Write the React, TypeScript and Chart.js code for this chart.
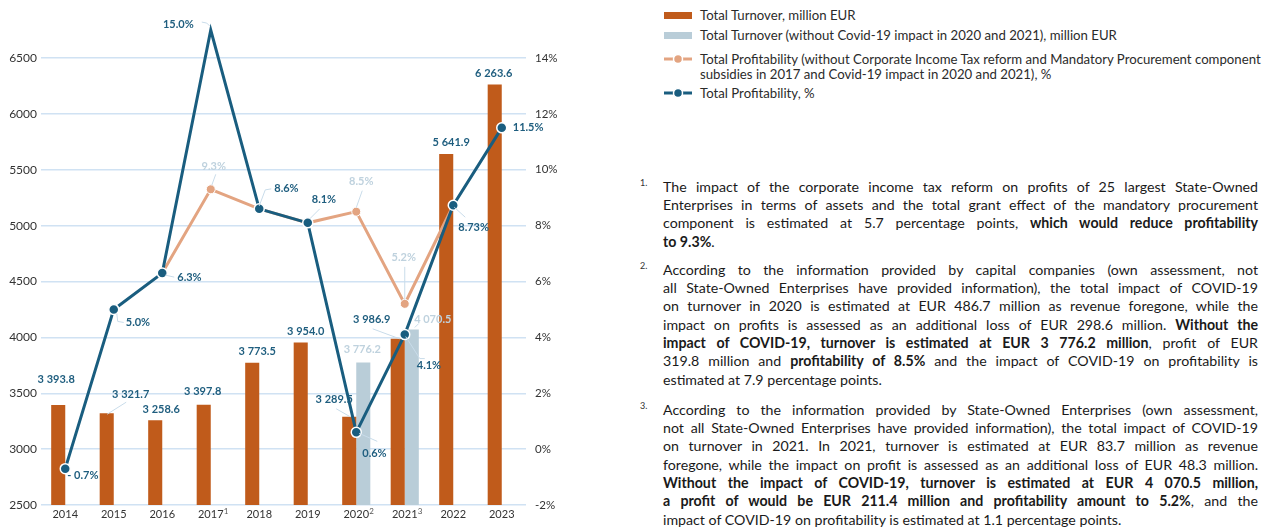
import React, { useEffect, useRef } from "react";
import { Chart, registerables } from "chart.js";

Chart.register(...registerables);

// ---------- DATA ----------
const years = ["2014", "2015", "2016", "2017", "2018", "2019", "2020", "2021", "2022", "2023"];
const yearMarks = ["", "", "", "1", "", "", "2", "3", "", ""];
const turnover = [3393.8, 3321.7, 3258.6, 3397.8, 3773.5, 3954.0, 3289.5, 3986.9, 5641.9, 6263.6];
const turnoverNoCovid = [null, null, null, null, null, null, 3776.2, 4070.5, null, null];
const profitabilityAdj = [null, null, 6.3, 9.3, 8.6, 8.1, 8.5, 5.2, 8.73, null];
const profitability = [-0.7, 5.0, 6.3, 15.0, 8.6, 8.1, 0.6, 4.1, 8.73, 11.5];
const leftTicks = [2500, 3000, 3500, 4000, 4500, 5000, 5500, 6000, 6500];
const rightTicks = [-2, 0, 2, 4, 6, 8, 10, 12, 14];

const legendItems = [
  { kind: "bar", color: "#c05b1b", lines: ["Total Turnover, million EUR"] },
  { kind: "bar", color: "#b9cdd8", lines: ["Total Turnover (without Covid-19 impact in 2020 and 2021), million EUR"] },
  {
    kind: "line",
    color: "#e3a481",
    lines: [
      "Total Profitability (without Corporate Income Tax reform and Mandatory Procurement component",
      "subsidies in 2017 and Covid-19 impact in 2020 and 2021), %",
    ],
  },
  { kind: "line", color: "#195d7f", lines: ["Total Profitability, %"] },
];

const footnotes = [
  {
    mark: "1.",
    lines: [
      "The impact of the corporate income tax reform on profits of 25 largest State-Owned",
      "Enterprises in terms of assets and the total grant effect of the mandatory procurement",
      "component is estimated at 5.7 percentage points, **which would reduce profitability**",
      "**to 9.3%**.",
    ],
  },
  {
    mark: "2.",
    lines: [
      "According to the information provided by capital companies (own assessment, not",
      "all State-Owned Enterprises have provided information), the total impact of COVID-19",
      "on turnover in 2020 is estimated at EUR 486.7 million as revenue foregone, while the",
      "impact on profits is assessed as an additional loss of EUR 298.6 million. **Without the**",
      "**impact of COVID-19, turnover is estimated at EUR 3 776.2 million**, profit of EUR",
      "319.8 million and **profitability of 8.5%** and the impact of COVID-19 on profitability is",
      "estimated at 7.9 percentage points.",
    ],
  },
  {
    mark: "3.",
    lines: [
      "According to the information provided by State-Owned Enterprises (own assessment,",
      "not all State-Owned Enterprises have provided information), the total impact of COVID-19",
      "on turnover in 2021. In 2021, turnover is estimated at EUR 83.7 million as revenue",
      "foregone, while the impact on profit is assessed as an additional loss of EUR 48.3 million.",
      "**Without the impact of COVID-19, turnover is estimated at EUR 4 070.5 million,**",
      "**a profit of would be EUR 211.4 million and profitability amount to 5.2%**, and the",
      "impact of COVID-19 on profitability is estimated at 1.1 percentage points.",
    ],
  },
];

// ---------- STYLE ----------
const C_BAR = "#c05b1b";
const C_BAR2 = "#b9cdd8";
const C_ADJ = "#e3a481";
const C_PROF = "#195d7f";
const C_LBL = "#1f5e7f";
const C_LBL_LIGHT = "#bfd2de";
const C_LEADER = "#c9dcea";
const C_GRID = "#d0e2f3";
const C_TICK = "#333333";
const FONT = "Lato, 'Open Sans', sans-serif";

type LabelSpec = {
  ds: number;
  i: number;
  dx: number;
  dy: number;
  align?: CanvasTextAlign;
  light?: boolean;
  leader?: number[][];
};

// label placement offsets relative to the element anchor (bar top / point)
const labelSpecs: LabelSpec[] = [
  { ds: 0, i: 0, dx: -2, dy: -26 },
  { ds: 0, i: 1, dx: 24, dy: -19, leader: [[0.5, 1], [19.5, -11]] },
  { ds: 0, i: 2, dx: 6, dy: -11 },
  { ds: 0, i: 3, dx: -1, dy: -13 },
  { ds: 0, i: 4, dx: 5, dy: -11 },
  { ds: 0, i: 5, dx: 5, dy: -11 },
  { ds: 0, i: 6, dx: -15, dy: -17, leader: [[-13, -8], [1, 0]] },
  { ds: 0, i: 7, dx: -26, dy: -19, leader: [[-25, -10], [2, 0]] },
  { ds: 0, i: 8, dx: 5, dy: -11 },
  { ds: 0, i: 9, dx: -1, dy: -11 },
  { ds: 1, i: 6, dx: -1, dy: -13, light: true },
  { ds: 1, i: 7, dx: 21, dy: -10, light: true, leader: [[3, -2], [7, -6]] },
  { ds: 3, i: 0, dx: 2, dy: 7, align: "left" },
  { ds: 3, i: 1, dx: 12, dy: 13, align: "left", leader: [[3, 4], [4, 12], [10, 13]] },
  { ds: 3, i: 2, dx: 15, dy: 4, align: "left", leader: [[3, 2], [12, 4]] },
  { ds: 3, i: 3, dx: -17, dy: -6, align: "right", leader: [[-1, -4], [-4, -7], [-9, -8]] },
  { ds: 3, i: 4, dx: 15, dy: -20, align: "left", leader: [[0, -3], [6, -19], [12, -20]] },
  { ds: 3, i: 5, dx: 4, dy: -23, align: "left", leader: [[2, -4], [12, -14]] },
  { ds: 3, i: 6, dx: 6, dy: 21, align: "left", leader: [[3, 1], [21, 9]] },
  { ds: 3, i: 7, dx: 12, dy: 31, align: "left", leader: [[1, 2], [15, 24], [20, 24]] },
  { ds: 3, i: 8, dx: 5, dy: 22, align: "left", leader: [[1, 2], [12, 12]] },
  { ds: 3, i: 9, dx: 11, dy: 0, align: "left" },
  { ds: 2, i: 3, dx: 3, dy: -23, light: true, leader: [[1, -4], [5, -15]] },
  { ds: 2, i: 6, dx: 5, dy: -30, light: true, leader: [[0, -4], [6, -21]] },
  { ds: 2, i: 7, dx: -1, dy: -46, light: true, leader: [[0, -4], [0, -37]] },
];

function fmtTurnover(v: number): string {
  const [int, dec] = v.toFixed(1).split(".");
  const withSpace = int.replace(/\B(?=(\d{3})+(?!\d))/g, " ");
  return `${withSpace}.${dec}`;
}
function fmtPct(v: number): string {
  let s = Math.abs(v).toString();
  if (!s.includes(".")) s += ".0";
  return (v < 0 ? "- " : "") + s + "%";
}

const labelPlugin = {
  id: "valueLabels",
  afterDatasetsDraw(chart: any) {
    const ctx: CanvasRenderingContext2D = chart.ctx;
    for (const L of labelSpecs) {
      const meta = chart.getDatasetMeta(L.ds);
      const el = meta.data[L.i];
      const v = chart.data.datasets[L.ds].data[L.i];
      if (v == null || !el) continue;
      const x = el.x;
      const y = el.y;
      ctx.save();
      if (L.leader) {
        ctx.strokeStyle = C_LEADER;
        ctx.lineWidth = 1;
        ctx.beginPath();
        L.leader.forEach(([a, b], k) => (k ? ctx.lineTo(x + a, y + b) : ctx.moveTo(x + a, y + b)));
        ctx.stroke();
      }
      ctx.font = `bold 11px ${FONT}`;
      ctx.fillStyle = L.light ? C_LBL_LIGHT : C_LBL;
      ctx.textAlign = L.align || "center";
      ctx.textBaseline = "middle";
      const txt = L.ds <= 1 ? fmtTurnover(v) : fmtPct(v);
      ctx.fillText(txt, x + L.dx, y + L.dy);
      ctx.restore();
    }
    // footnote superscripts on year labels
    const xs = chart.scales.x;
    ctx.save();
    ctx.font = `8px ${FONT}`;
    ctx.fillStyle = "#555";
    ctx.textAlign = "left";
    ctx.textBaseline = "top";
    yearMarks.forEach((m, i) => {
      if (!m) return;
      ctx.fillText(m, xs.getPixelForValue(i) + 13, chart.chartArea.bottom + 2);
    });
    ctx.restore();
  },
};

function ChartCanvas() {
  const ref = useRef<HTMLCanvasElement | null>(null);
  useEffect(() => {
    if (!ref.current) return;
    const chart = new Chart(ref.current, {
      type: "bar",
      data: {
        labels: years,
        datasets: [
          {
            type: "bar",
            label: "Total Turnover, million EUR",
            data: turnover,
            backgroundColor: C_BAR,
            yAxisID: "y",
            order: 3,
            categoryPercentage: 0.58,
            barPercentage: 1,
          },
          {
            type: "bar",
            label: "Total Turnover (without Covid-19 impact in 2020 and 2021), million EUR",
            data: turnoverNoCovid as any,
            backgroundColor: C_BAR2,
            yAxisID: "y",
            order: 3,
            categoryPercentage: 0.58,
            barPercentage: 1,
          },
          {
            type: "line",
            label: "Total Profitability (adjusted), %",
            data: profitabilityAdj as any,
            borderColor: C_ADJ,
            backgroundColor: C_ADJ,
            borderWidth: 3,
            pointRadius: 4.5,
            pointBackgroundColor: C_ADJ,
            pointBorderColor: "#ffffff",
            pointBorderWidth: 1,
            tension: 0,
            yAxisID: "y1",
            order: 2,
            clip: false as any,
          },
          {
            type: "line",
            label: "Total Profitability, %",
            data: profitability,
            borderColor: C_PROF,
            backgroundColor: C_PROF,
            borderWidth: 3,
            pointRadius: 5,
            pointBackgroundColor: C_PROF,
            pointBorderColor: "#ffffff",
            pointBorderWidth: 1.5,
            tension: 0,
            yAxisID: "y1",
            order: 1,
            clip: false as any,
          },
        ],
      },
      options: {
        animation: false,
        responsive: true,
        maintainAspectRatio: false,
        layout: { padding: { top: 58, left: 0, right: 0, bottom: 0 } },
        font: { family: FONT } as any,
        plugins: {
          legend: { display: false },
          tooltip: { enabled: false },
        },
        scales: {
          x: {
            grid: { display: false, drawTicks: false },
            border: { display: false },
            ticks: {
              font: { size: 11, family: FONT },
              color: C_TICK,
              padding: 3,
              maxRotation: 0,
              autoSkip: false,
            },
            afterFit: (s: any) => {
              s.height = 23;
            },
          },
          y: {
            position: "left",
            min: 2500,
            max: 6500,
            afterBuildTicks: (s: any) => {
              s.ticks = leftTicks.map((v) => ({ value: v }));
            },
            ticks: {
              font: { size: 12, family: FONT },
              color: C_TICK,
              padding: 4,
              callback: (v: any) => String(v),
            },
            grid: { color: C_GRID, lineWidth: 1.5, drawTicks: false },
            border: { display: false },
            afterFit: (s: any) => {
              s.width = 41;
            },
          },
          y1: {
            position: "right",
            min: -2,
            max: 14,
            afterBuildTicks: (s: any) => {
              s.ticks = rightTicks.map((v) => ({ value: v }));
            },
            ticks: {
              font: { size: 11.5, family: FONT },
              color: C_TICK,
              padding: 9,
              callback: (v: any) => `${v}%`,
            },
            grid: { display: false, drawTicks: false },
            border: { display: false },
            afterFit: (s: any) => {
              s.width = 54;
            },
          },
        },
      },
      plugins: [labelPlugin],
    });
    return () => chart.destroy();
  }, []);
  return <canvas ref={ref} />;
}

function renderSegments(line: string) {
  const parts = line.split("**");
  return parts.map((p, k) =>
    k % 2 === 1 ? (
      <b key={k} style={{ fontWeight: 700 }}>
        {p}
      </b>
    ) : (
      <span key={k}>{p}</span>
    )
  );
}

const FN_TOPS = [187, 270, 410];
const FN_LH = 18.3;

export default function App() {
  useEffect(() => {
    document.body.style.margin = "0";
  }, []);
  return (
    <div
      style={{
        position: "fixed",
        left: 0,
        top: 0,
        width: 1282,
        height: 528,
        background: "#ffffff",
        fontFamily: FONT,
        color: "#1a1a1a",
        overflow: "hidden",
      }}
    >
      <div style={{ position: "absolute", left: 0, top: 0, width: 580, height: 528 }}>
        <ChartCanvas />
      </div>

      {/* Legend */}
      {(() => {
        const centers = [15, 35, 59, 93];
        return legendItems.map((it, k) => (
          <div key={k} style={{ position: "absolute", left: 664, top: centers[k] - 8 }}>
            <svg width={30} height={16} style={{ position: "absolute", left: 0, top: 0 }}>
              {it.kind === "bar" ? (
                <rect x={0} y={5} width={28} height={7} fill={it.color} />
              ) : (
                <g>
                  <line x1={0} y1={8} x2={28} y2={8} stroke={it.color} strokeWidth={3} />
                  <circle cx={14} cy={8} r={4.5} fill={it.color} stroke="#ffffff" strokeWidth={1.5} />
                </g>
              )}
            </svg>
            <div
              style={{
                position: "absolute",
                left: 36,
                top: 0,
                whiteSpace: "nowrap",
                fontSize: 13.2,
                lineHeight: "16px",
                color: "#2b2b2b",
              }}
            >
              {it.lines.map((l, j) => (
                <div key={j} style={{ lineHeight: j === 0 ? "16px" : "15px" }}>
                  {l}
                </div>
              ))}
            </div>
          </div>
        ));
      })()}

      {/* Footnotes */}
      {footnotes.map((fn, k) => (
        <div key={k} style={{ position: "absolute", left: 640, top: FN_TOPS[k] - FN_LH / 2, width: 620 }}>
          <div style={{ position: "absolute", left: 0, top: -1, fontSize: 9, color: "#333" }}>{fn.mark}</div>
          <div style={{ position: "absolute", left: 23, top: 0, width: 595, fontSize: 14.2 }}>
            {fn.lines.map((l, j) => {
              const last = j === fn.lines.length - 1;
              return (
                <div
                  key={j}
                  style={{
                    height: FN_LH,
                    lineHeight: `${FN_LH}px`,
                    textAlign: last ? "left" : "justify",
                    textAlignLast: last ? "left" : "justify",
                    whiteSpace: last ? "nowrap" : "normal",
                  } as any}
                >
                  {renderSegments(l)}
                </div>
              );
            })}
          </div>
        </div>
      ))}
    </div>
  );
}
